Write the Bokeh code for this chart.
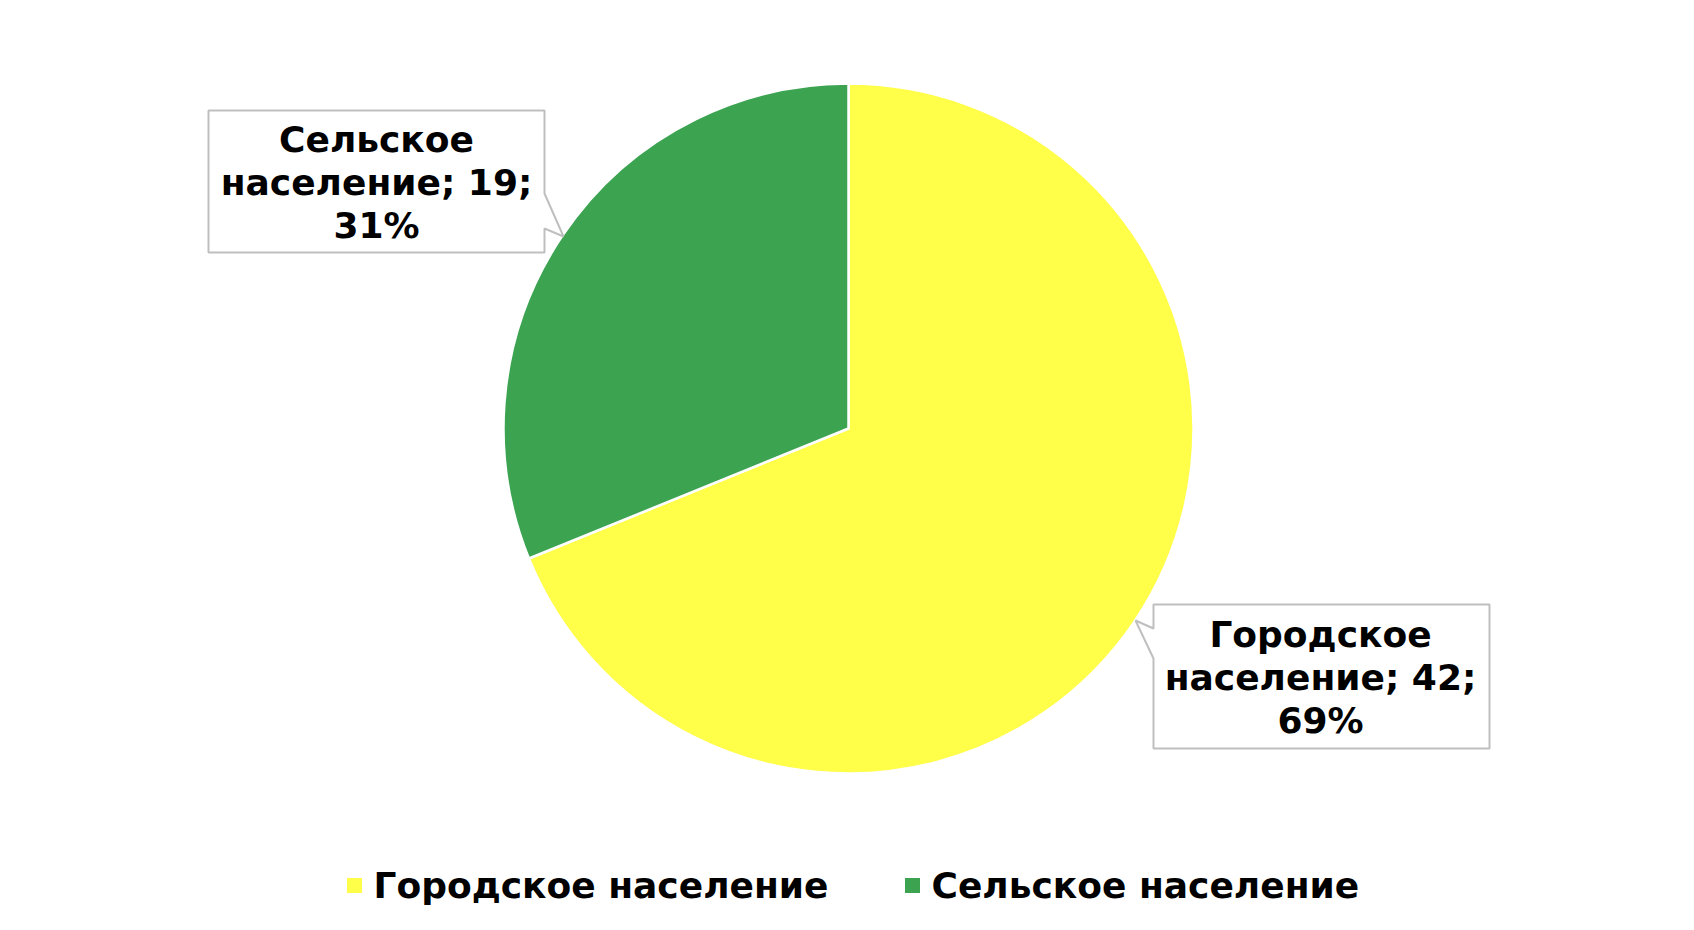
import math
from bokeh.plotting import figure
from bokeh.models import Range1d
from bokeh.core.properties import value
from bokeh.embed import file_html
from bokeh.resources import INLINE

# ---- data ----
categories = ["Городское население", "Сельское население"]
values = [42, 19]
colors = ["#FFFF4A", "#3CA351"]

# ---- layout (canvas pixel coordinates) ----
W, H = 1678, 914
CX, CY, R = 848, 428, 345
FONT = value("DejaVu Sans")

p = figure(width=W, height=H, output_backend="svg", toolbar_location=None,
           x_range=Range1d(0, W), y_range=Range1d(930 - H, 930),
           min_border=0)
p.axis.visible = False
p.grid.visible = False
p.outline_line_color = None
p.background_fill_color = "white"
p.border_fill_color = "white"

def Y(ys):
    return 930 - ys

total = sum(values)
fracs = [v / total for v in values]

# first slice clockwise from 12 o'clock, then next slice
angle = math.pi / 2
for cat, frac, col in zip(categories, fracs, colors):
    end = angle
    start = angle - frac * 2 * math.pi
    p.wedge(x=[CX], y=[Y(CY)], radius=R, start_angle=start, end_angle=end,
            direction="anticlock", fill_color=col, line_color="white", line_width=2.5)
    angle = start

# ---- callout boxes ----
def callout(xs, ys):
    p.patch(x=xs, y=[Y(v) for v in ys], fill_color="white",
            line_color="#BFBFBF", line_width=2)

# rural label (left)
callout([208, 544, 544, 563, 544, 544, 208],
        [110, 110, 193, 236, 228, 252, 252])
# urban label (right)
callout([1153, 1489, 1489, 1153, 1153, 1135, 1153],
        [604, 604, 748, 748, 658, 620, 628])

def label_text(cat, v, frac):
    a, b = cat.split(" ")
    return f"{a}\n{b}; {v};\n{round(frac * 100)}%"

lab_x = [1320, 376]
lab_y = [Y(677), Y(182)]
p.text(x=lab_x, y=lab_y,
       text=[label_text(c, v, f) for c, v, f in zip(categories, values, fracs)],
       text_font=FONT, text_font_style="bold", text_font_size="36px",
       text_align="center", text_baseline="middle", text_line_height=1.05,
       text_color="black")

# ---- legend ----
leg_sq_x = [354, 912]
leg_y = Y(885)
p.rect(x=leg_sq_x, y=[leg_y] * 2, width=15, height=15,
       fill_color=colors, line_color=None)
p.text(x=[x + 19 for x in leg_sq_x], y=[leg_y] * 2, text=categories,
       text_font=FONT, text_font_style="bold", text_font_size="36px",
       text_align="left", text_baseline="middle", text_color="black")

open("out.html", "w").write(file_html(p, INLINE))
